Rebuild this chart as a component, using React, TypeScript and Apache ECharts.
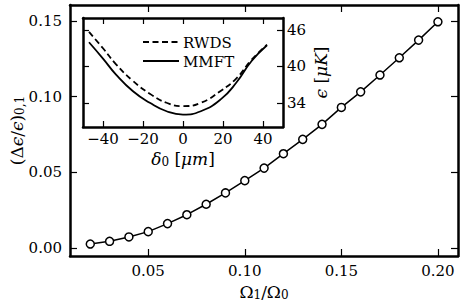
import React, { useEffect, useRef } from "react";
import * as echarts from "echarts";

const omegaRatio = [0.02, 0.03, 0.04, 0.05, 0.06, 0.07, 0.08, 0.09, 0.1, 0.11, 0.12, 0.13, 0.14, 0.15, 0.16, 0.17, 0.18, 0.19, 0.2];
const deltaEps = [0.0026, 0.0044, 0.0073, 0.0108, 0.0161, 0.022, 0.0289, 0.0364, 0.0445, 0.0528, 0.0623, 0.0718, 0.0817, 0.0929, 0.1032, 0.1143, 0.1257, 0.1374, 0.1495];

const delta0 = [-47, -40, -33.6, -25, -16.6, -8.2, 0, 8.9, 19, 26.6, 34.3, 42];
const rwds = [45.7, 43.0, 40.4, 37.6, 35.5, 34.0, 33.45, 34.0, 36.0, 38.0, 41.1, 43.6];
const mmft = [44.0, 41.3, 38.7, 35.9, 34.0, 32.6, 32.05, 32.6, 34.6, 37.3, 40.9, 43.5];

const legendNames = ["RWDS", "MMFT"];

const mainXTicks = [0.05, 0.1, 0.15, 0.2];
const mainYTicks = [0, 0.05, 0.1, 0.15];
const insetXTicks = [-40, -20, 0, 20, 40];
const insetYTicks = [34, 40, 46];

const FONT = "DejaVu Serif";

export default function App() {
  const ref = useRef<HTMLDivElement>(null);
  useEffect(() => {
    if (!ref.current) return;
    const chart = echarts.init(ref.current, null, { renderer: "svg" });
    const axisLine = { show: true, onZero: false, lineStyle: { color: "#000", width: 2.5 } };
    const tick = (vals: number[], len = 7) => ({
      show: true,
      inside: true,
      length: len,
      lineStyle: { color: "#000", width: 1.2 },
      customValues: vals,
    });
    const lbl = (vals: number[], margin: number, fmt: (v: number) => string) => ({
      show: true,
      customValues: vals,
      margin,
      color: "#000",
      fontFamily: FONT,
      fontSize: 15,
      lineHeight: 15,
      formatter: (v: number) => fmt(v),
    });
    const noLabel = { show: false };
    const rich = {
      n: { fontFamily: FONT, fontSize: 17, color: "#000", lineHeight: 17 },
      i: { fontFamily: FONT, fontSize: 17, fontStyle: "italic", color: "#000", lineHeight: 17 },
      s: { fontFamily: FONT, fontSize: 12, color: "#000", lineHeight: 12, padding: [7, 0, 0, 0] },
    };
    const f2 = (v: number) => v.toFixed(2);
    const fi = (v: number) => (v < 0 ? "\u2212" + Math.abs(v) : String(v));

    chart.setOption({
      animation: false,
      backgroundColor: "#fff",
      grid: [
        { left: 70, width: 388, top: 5, height: 251, outerBoundsMode: "none", containLabel: false },
        { left: 83, width: 200, top: 18, height: 109, show: true, backgroundColor: "#fff", borderWidth: 0, z: 5, outerBoundsMode: "none", containLabel: false },
      ],
      graphic: [
        { type: "line", z: 30, shape: { x1: 143, y1: 42, x2: 179, y2: 42 }, style: { stroke: "#000", lineWidth: 1.8, lineDash: [6, 3.5] } },
        { type: "line", z: 30, shape: { x1: 143, y1: 61, x2: 179, y2: 61 }, style: { stroke: "#000", lineWidth: 1.8 } },
        { type: "text", z: 30, x: 183, y: 43, style: { text: legendNames[0], fontFamily: FONT, fontSize: 15, fill: "#000", verticalAlign: "middle" } },
        { type: "text", z: 30, x: 183, y: 62, style: { text: legendNames[1], fontFamily: FONT, fontSize: 15, fill: "#000", verticalAlign: "middle" } },
      ],
      xAxis: [
        {
          type: "value", gridIndex: 0, min: 0.0095, max: 0.2104,
          axisLine, axisTick: tick(mainXTicks), axisLabel: lbl(mainXTicks, 7, f2), splitLine: { show: false },
          name: "{n|\u03A9}{s|1}{n|/\u03A9}{s|0}", nameLocation: "middle", nameGap: 27, nameMoveOverlap: false,
          nameTextStyle: { rich },
        },
        {
          type: "value", gridIndex: 0, position: "top", min: 0.0095, max: 0.2104,
          axisLine, axisTick: tick(mainXTicks), axisLabel: noLabel, splitLine: { show: false },
        },
        {
          type: "value", gridIndex: 1, min: -50, max: 50,
          axisLine, axisTick: tick(insetXTicks, 6), axisLabel: lbl(insetXTicks, 4, fi), splitLine: { show: false },
          name: "{i|\u03B4}{s|0}{n| [}{i|\u03BCm}{n|]}", nameLocation: "middle", nameGap: 23, nameMoveOverlap: false,
          nameTextStyle: { rich },
          z: 10,
        },
        {
          type: "value", gridIndex: 1, position: "top", min: -50, max: 50,
          axisLine, axisTick: tick(insetXTicks, 6), axisLabel: noLabel, splitLine: { show: false }, z: 10,
        },
      ],
      yAxis: [
        {
          type: "value", gridIndex: 0, min: -0.0053, max: 0.1606,
          axisLine, axisTick: tick(mainYTicks), axisLabel: lbl(mainYTicks, 8, f2), splitLine: { show: false },
          name: "{n|(\u0394}{i|\u03F5}{n|/}{i|\u03F5}{n|)}{s|0,1}", nameLocation: "middle", nameGap: 45, nameRotate: 90, nameMoveOverlap: false,
          nameTextStyle: { rich },
        },
        {
          type: "value", gridIndex: 0, position: "right", min: -0.0053, max: 0.1606,
          axisLine, axisTick: tick(mainYTicks), axisLabel: noLabel, splitLine: { show: false },
        },
        {
          type: "value", gridIndex: 1, position: "right", min: 30, max: 48,
          axisLine, axisTick: tick(insetYTicks, 6), axisLabel: lbl(insetYTicks, 4, fi), splitLine: { show: false },
          name: "{i|\u03F5}{n| [}{i|\u03BCK}{n|]}", nameLocation: "middle", nameGap: 29, nameRotate: 90, nameMoveOverlap: false,
          nameTextStyle: { rich },
          z: 10,
        },
        {
          type: "value", gridIndex: 1, position: "left", min: 30, max: 48,
          axisLine, axisTick: tick(insetYTicks, 6), axisLabel: noLabel, splitLine: { show: false }, z: 10,
        },
      ],
      series: [
        {
          type: "line", name: "main", xAxisIndex: 0, yAxisIndex: 0,
          data: omegaRatio.map((x, i) => [x, deltaEps[i]]),
          symbol: "circle", symbolSize: 8,
          itemStyle: { color: "#fff", borderColor: "#000", borderWidth: 1.5 },
          lineStyle: { color: "#000", width: 1.5 },
          z: 2,
        },
        {
          type: "line", name: legendNames[0], xAxisIndex: 2, yAxisIndex: 2,
          data: delta0.map((x, i) => [x, rwds[i]]),
          smooth: true, symbol: "none",
          lineStyle: { color: "#000", width: 1.8, type: [6, 3.5] },
          z: 11,
        },
        {
          type: "line", name: legendNames[1], xAxisIndex: 2, yAxisIndex: 2,
          data: delta0.map((x, i) => [x, mmft[i]]),
          smooth: true, symbol: "none",
          lineStyle: { color: "#000", width: 1.8 },
          z: 11,
        },
      ],
    });
    return () => chart.dispose();
  }, []);
  return <div ref={ref} style={{ width: 464, height: 308, position: "absolute", left: 0, top: 0 }} />;
}
